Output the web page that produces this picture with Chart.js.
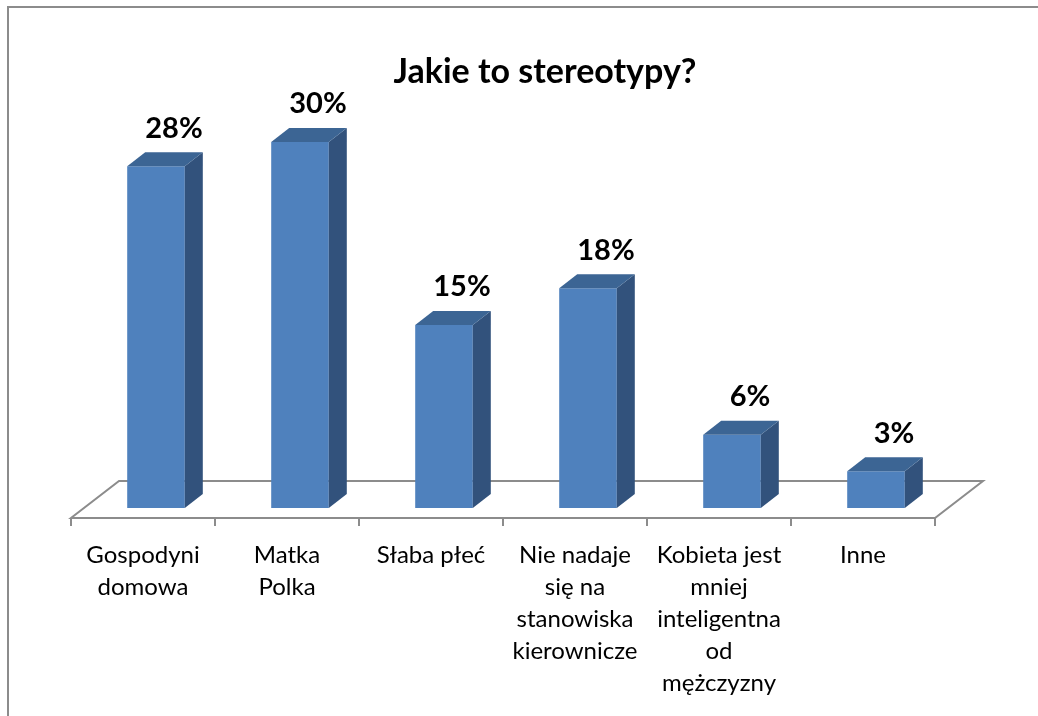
<!DOCTYPE html>
<html>

<head>
  <meta charset="utf-8">
  <title>Jakie to stereotypy?</title>
  <script src="https://cdn.jsdelivr.net/npm/chart.js@4.4.1/dist/chart.umd.min.js"></script>
  <style>
    html, body { margin: 0; padding: 0; background: #fff; }
    #wrap { position: relative; width: 1038px; height: 716px; }
  </style>
</head>

<body>
  <div id="wrap"><canvas id="myChart"></canvas></div>

  <script>
    // data
    const categories = [
      ['Gospodyni', 'domowa'],
      ['Matka', 'Polka'],
      ['Słaba płeć'],
      ['Nie nadaje', 'się na', 'stanowiska', 'kierownicze'],
      ['Kobieta jest', 'mniej', 'inteligentna', 'od', 'mężczyzny'],
      ['Inne']
    ];
    const values = [28, 30, 15, 18, 6, 3];
    const valueLabels = ['28%', '30%', '15%', '18%', '6%', '3%'];
    const chartTitle = 'Jakie to stereotypy?';

    const FRONT = '#4f81bd';
    const SIDE = '#32527c';
    const TOP = '#3c6594';
    const LINE = '#8c8c8c';
    const DX = 18, DY = -14;           // bar depth
    const FLOOR_FRONT = [-13, 10];     // floor edges relative to bar plane
    const FLOOR_BACK = [35, -27];

    // border, title, floor and 3d faces
    const floorPlugin = {
      id: 'floor',
      beforeDraw(chart) {
        const ctx = chart.ctx;
        ctx.save();
        ctx.strokeStyle = LINE;
        ctx.lineWidth = 2;
        ctx.strokeRect(8, 7, 1100, 800);
        // title (sits a bit right of the plot centre like the original)
        ctx.fillStyle = '#000';
        ctx.font = 'bold 34px Lato';
        ctx.textAlign = 'center';
        ctx.textBaseline = 'middle';
        ctx.fillText(chartTitle, chart.width / 2 + 26, 72);
        ctx.restore();
      },
      beforeDatasetsDraw(chart) {
        const ctx = chart.ctx;
        const xs = chart.scales.x, ys = chart.scales.y;
        const y0 = ys.getPixelForValue(0);
        const l = xs.left, r = xs.right;
        ctx.save();
        ctx.strokeStyle = LINE;
        ctx.lineWidth = 2;
        ctx.beginPath();
        ctx.moveTo(l + FLOOR_FRONT[0], y0 + FLOOR_FRONT[1]);
        ctx.lineTo(r + FLOOR_FRONT[0], y0 + FLOOR_FRONT[1]);
        ctx.lineTo(r + FLOOR_BACK[0], y0 + FLOOR_BACK[1]);
        ctx.lineTo(l + FLOOR_BACK[0], y0 + FLOOR_BACK[1]);
        ctx.closePath();
        ctx.stroke();
        // tick marks on the front edge
        const step = (r - l) / categories.length;
        for (let i = 0; i <= categories.length; i++) {
          const x = l + FLOOR_FRONT[0] + i * step;
          ctx.beginPath();
          ctx.moveTo(x, y0 + FLOOR_FRONT[1]);
          ctx.lineTo(x, y0 + FLOOR_FRONT[1] + 8);
          ctx.stroke();
        }
        ctx.restore();
      },
      afterDatasetsDraw(chart) {
        const ctx = chart.ctx;
        const meta = chart.getDatasetMeta(0);
        ctx.save();
        meta.data.forEach((bar, i) => {
          const p = bar.getProps(['x', 'y', 'base', 'width'], true);
          const L = p.x - p.width / 2, R = p.x + p.width / 2;
          // side
          ctx.fillStyle = SIDE;
          ctx.beginPath();
          ctx.moveTo(R, p.y);
          ctx.lineTo(R + DX, p.y + DY);
          ctx.lineTo(R + DX, p.base + DY);
          ctx.lineTo(R, p.base);
          ctx.closePath();
          ctx.fill();
          // top
          ctx.fillStyle = TOP;
          ctx.beginPath();
          ctx.moveTo(L, p.y);
          ctx.lineTo(L + DX, p.y + DY);
          ctx.lineTo(R + DX, p.y + DY);
          ctx.lineTo(R, p.y);
          ctx.closePath();
          ctx.fill();
          // value label
          ctx.fillStyle = '#000';
          ctx.font = 'bold 29px Lato';
          ctx.textAlign = 'center';
          ctx.textBaseline = 'middle';
          ctx.fillText(valueLabels[i], p.x + DX, p.y + DY - 24);
        });
        ctx.restore();
      }
    };

    const config = {
      type: 'bar',
      data: {
        labels: categories,
        datasets: [{
          data: values,
          backgroundColor: FRONT,
          borderWidth: 0,
          barPercentage: 0.4,
          categoryPercentage: 1
        }]
      },
      options: {
        responsive: true,
        maintainAspectRatio: false,
        animation: false,
        layout: { padding: { left: 84, right: 90, top: 101, bottom: 0 } },
        scales: {
          x: {
            grid: { display: false, drawTicks: false },
            border: { display: false },
            ticks: {
              color: '#000',
              font: { family: 'Lato', size: 24, lineHeight: 32 / 24 },
              padding: 17,
              labelOffset: -13,
              maxRotation: 0,
              autoSkip: false
            }
          },
          y: {
            display: false,
            min: -1.15,
            max: 33.35
          }
        },
        plugins: {
          legend: { display: false },
          tooltip: { enabled: false },
          title: { display: false }
        }
      },
      plugins: [floorPlugin]
    };

    var chart = new Chart(document.getElementById('myChart'), config);
  </script>
</body>

</html>
